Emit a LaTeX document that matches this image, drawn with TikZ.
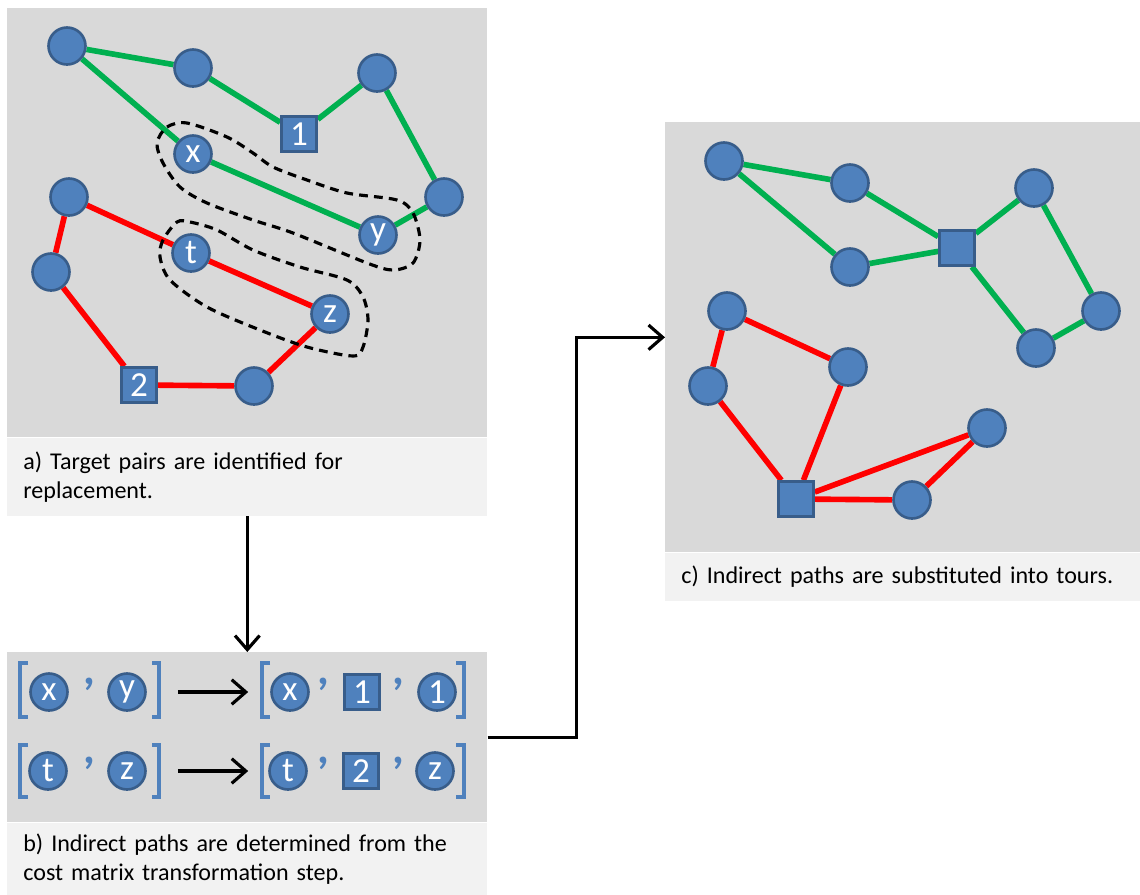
\documentclass[tikz,border=0pt]{standalone}
\usepackage{fontspec}
\setmainfont{Carlito}
\usetikzlibrary{arrows.meta,positioning}
\definecolor{nodefill}{HTML}{4F81BD}
\definecolor{nodeline}{HTML}{385D8A}
\definecolor{tourgreen}{HTML}{00B050}
\definecolor{tourred}{HTML}{FF0000}
\definecolor{panelgray}{HTML}{D9D9D9}
\definecolor{capgray}{HTML}{F2F2F2}
\pgfdeclarelayer{back}
\pgfdeclarelayer{mid}
\pgfsetlayers{back,mid,main}

\begin{document}
\begin{tikzpicture}[
    x=0.02cm, y=-0.02cm,
    panel/.style={fill=panelgray, inner sep=0pt, anchor=north west},
    capbox/.style={fill=capgray, inner xsep=0.32cm, inner ysep=0pt, align=left, font=\fontsize{13.7}{16.5}\selectfont},
    city/.style={circle, fill=nodefill, draw=nodeline, line width=1.5pt, minimum size=0.74cm, inner sep=0pt, text=white, font=\fontsize{20}{20}\selectfont},
    depot/.style={city, rectangle, minimum size=0.7cm},
    comma/.style={inner sep=0pt, text=nodefill, font=\fontsize{26}{26}\selectfont\bfseries},
    greentour/.style={draw=tourgreen, line width=3.2pt},
    redtour/.style={draw=tourred, line width=3.2pt},
    pairloop/.style={black, line width=1.8pt, dash pattern=on 5pt off 3.5pt},
    brk/.style={draw=nodefill, line width=2.4pt},
    arr/.style={-{Straight Barb[length=8pt, width=14pt]}, line width=1.8pt}]
    \useasboundingbox (0,0) rectangle (1140,894);

    % panels and captions
    \begin{pgfonlayer}{back}
    \node[panel, minimum width=9.6cm, minimum height=8.58cm] (pa) at (7,8) {};
    \node[capbox, below=0pt of pa, minimum width=9.6cm, minimum height=1.56cm, text width=8.96cm] (capa)
        {a) Target pairs are identified for\\replacement.};
    \node[panel, minimum width=9.6cm, minimum height=3.4cm] (pb) at (7,652) {};
    \node[capbox, below=0pt of pb, minimum width=9.6cm, minimum height=1.44cm, text width=8.96cm] (capb)
        {b) Indirect paths are determined from the\\cost matrix transformation step.};
    \node[panel, minimum width=9.5cm, minimum height=8.6cm] (pc) at (665,122) {};
    \node[capbox, below=0pt of pc, minimum width=9.5cm, minimum height=0.96cm, text width=8.86cm] (capc)
        {c) Indirect paths are substituted into tours.};
    \end{pgfonlayer}

    % a) two tours with the target pairs
    \node[city] (ga1) at (67,46) {};
    \node[city] (ga2) at (193,68) {};
    \node[city] (ga3) at (377,73) {};
    \node[depot] (sq1) at (299,134) {1};
    \node[city] (nx) at (193,154) {x};
    \node[city] (ga4) at (444,197) {};
    \node[city] (ny) at (378,235) {y};
    \node[city] (ra1) at (69,197) {};
    \node[city] (nt) at (191,253) {t};
    \node[city] (ra2) at (51,272) {};
    \node[city] (nz) at (330,314) {z};
    \node[depot] (sq2) at (139,385) {2};
    \node[city] (ra3) at (254,386) {};
    \begin{pgfonlayer}{mid}
    \draw[greentour] (ga1) -- (ga2) -- (sq1) -- (ga3) -- (ga4) -- (ny) -- (nx) -- (ga1);
    \draw[redtour] (ra1) -- (nt) -- (nz) -- (ra3) -- (sq2) -- (ra2) -- (ra1);
    \end{pgfonlayer}
    \draw[pairloop] plot[smooth cycle] coordinates {(157,143) (167,127) (187,123) (227,137) (253,153)
        (273,167) (307,180) (347,193) (397,200) (413,213) (420,240) (413,263) (393,270)
        (367,263) (293,233) (253,220) (207,203) (180,187) (163,163)};
    \draw[pairloop] plot[smooth cycle] coordinates {(177,222) (163,240) (160,257) (170,280) (207,307)
        (260,330) (307,347) (353,356) (363,347) (368,320) (363,297) (347,280) (300,267)
        (253,250) (217,230) (190,222)};

    % b) pairs and their indirect paths
    \node[city] (px) at (49,692) {x};
    \node[comma] (k11) at (89,684) {,};
    \node[city] (py) at (127,692) {y};
    \node[city] (qx) at (290,692) {x};
    \node[comma] (k12) at (323,684) {,};
    \node[depot] (q1) at (362,692) {1};
    \node[comma] (k13) at (398,684) {,};
    \node[city] (q1b) at (437,692) {1};
    \node[city] (pt) at (48,771) {t};
    \node[comma] (k21) at (89,763) {,};
    \node[city] (pz) at (127,771) {z};
    \node[city] (qt) at (288,771) {t};
    \node[comma] (k22) at (323,763) {,};
    \node[depot] (q2) at (361,771) {2};
    \node[comma] (k23) at (398,763) {,};
    \node[city] (qz) at (435,771) {z};
    \draw[brk] (28,663) -| (20,717) -- (28,717);
    \draw[brk] (152,663) -| (159,717) -- (152,717);
    \draw[brk] (270,663) -| (262,717) -- (270,717);
    \draw[brk] (456,663) -| (464,717) -- (456,717);
    \draw[brk] (28,745) -| (20,797) -- (28,797);
    \draw[brk] (152,745) -| (159,797) -- (152,797);
    \draw[brk] (270,745) -| (262,797) -- (270,797);
    \draw[brk] (456,745) -| (464,797) -- (456,797);
    \draw[arr, shorten <=0.62cm, shorten >=0.44cm] (py) -- (qx);
    \draw[arr, shorten <=0.62cm, shorten >=0.40cm] (pz) -- (qt);

    % c) tours after substitution
    \node[city] (gc1) at (724,161) {};
    \node[city] (gc2) at (850,183) {};
    \node[city] (gc3) at (850,267) {};
    \node[depot] (sqc) at (957,248) {};
    \node[city] (gc4) at (1034,188) {};
    \node[city] (gc5) at (1101,311) {};
    \node[city] (gc6) at (1036,348) {};
    \node[city] (rc1) at (727,311) {};
    \node[city] (rc2) at (708,386) {};
    \node[city] (rc3) at (848,367) {};
    \node[depot] (sqd) at (796,499) {};
    \node[city] (rc4) at (987,428) {};
    \node[city] (rc5) at (912,500) {};
    \begin{pgfonlayer}{mid}
    \draw[greentour] (gc1) -- (gc2) -- (sqc) -- (gc3) -- (gc1);
    \draw[greentour] (sqc) -- (gc4) -- (gc5) -- (gc6) -- (sqc);
    \draw[redtour] (rc1) -- (rc3) -- (sqd) -- (rc2) -- (rc1);
    \draw[redtour] (sqd) -- (rc4) -- (rc5) -- (sqd);
    \end{pgfonlayer}

    % flow between the steps
    \draw[arr] (capa) -- (pb);
    \draw[arr] (pb.east) -- ++(89,0) |- (pc);
\end{tikzpicture}
\end{document}
